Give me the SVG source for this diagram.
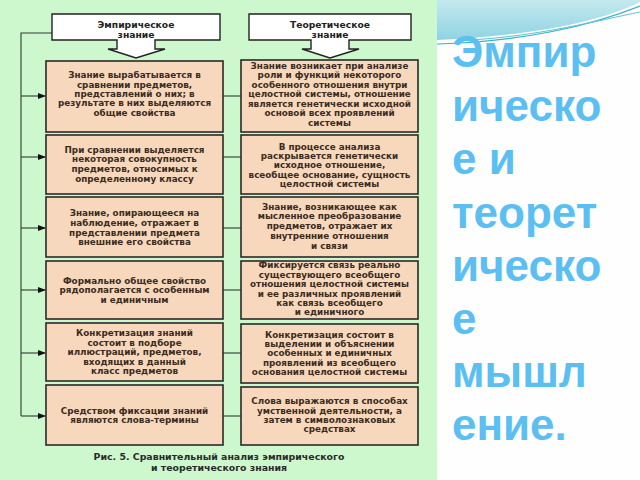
<svg xmlns="http://www.w3.org/2000/svg" width="640" height="480" viewBox="0 0 640 480">
<defs>
<linearGradient id="wave" x1="0" y1="0" x2="0" y2="1">
<stop offset="0" stop-color="#c4e9ee"/>
<stop offset="1" stop-color="#8fd3e3"/>
</linearGradient>
<marker id="ah" markerWidth="8" markerHeight="6" refX="7" refY="3" orient="auto" markerUnits="userSpaceOnUse">
<path d="M0,0 L8,3 L0,6 Z" fill="#111"/>
</marker>
<style>
.box{fill:#f8d8bc;stroke:#2a2a2a;stroke-width:1.6}
.hdr{fill:#fff;stroke:#222;stroke-width:1.4}
.t{font-family:"DejaVu Sans",Verdana,sans-serif;font-weight:bold;font-size:8.8px;fill:#3a2c22;text-anchor:middle}
.h{font-family:"DejaVu Sans",Verdana,sans-serif;font-weight:bold;font-size:9.2px;fill:#222;text-anchor:middle}
.cap{font-family:"DejaVu Sans",Verdana,sans-serif;font-weight:bold;font-size:9.4px;fill:#2a2a2a;text-anchor:middle}
.ln{stroke:#2f3f2f;stroke-width:1.1;fill:none}
.title{font-family:"Liberation Sans",Arial,sans-serif;font-weight:bold;font-size:44px;fill:#5bbff2}
</style>
</defs>
<rect x="0" y="0" width="640" height="480" fill="#fefefe"/>
<rect x="0" y="0" width="437" height="480" fill="#cdf7cd"/>
<path d="M437,0 H640 V2 C600,22 530,36 437,40 Z" fill="url(#wave)"/>
<path d="M437,44 C520,42 590,26 640,6" stroke="#38b2c4" stroke-width="1.2" fill="none"/>
<path d="M470,40 C540,36 600,20 640,12" stroke="#5cc3d0" stroke-width="1" fill="none"/>

<g id="connectors">
<path class="ln" d="M52,33 H21 V416"/>
<line class="ln" x1="21" y1="96" x2="45" y2="96" marker-end="url(#ah)"/>
<line class="ln" x1="21" y1="157" x2="45" y2="157" marker-end="url(#ah)"/>
<line class="ln" x1="21" y1="228" x2="45" y2="228" marker-end="url(#ah)"/>
<line class="ln" x1="21" y1="290" x2="45" y2="290" marker-end="url(#ah)"/>
<line class="ln" x1="21" y1="353" x2="45" y2="353" marker-end="url(#ah)"/>
<line class="ln" x1="21" y1="416" x2="45" y2="416" marker-end="url(#ah)"/>
<line class="ln" x1="223" y1="96" x2="241" y2="96"/>
<line class="ln" x1="223" y1="157" x2="241" y2="157"/>
<line class="ln" x1="223" y1="228" x2="241" y2="228"/>
<line class="ln" x1="223" y1="290" x2="241" y2="290"/>
<line class="ln" x1="223" y1="353" x2="241" y2="353"/>
<line class="ln" x1="223" y1="416" x2="241" y2="416"/>
</g>

<g id="hdr-emp">
<path class="hdr" d="M52,14 H220 V40 H155 V49 H165 L136,58 L108,49 H117 V40 H52 Z"/>
<text class="h" x="136" y="27.5">Эмпирическое</text>
<text class="h" x="136" y="37.5">знание</text>
</g>
<g id="hdr-teo">
<path class="hdr" d="M249,14 H411 V40 H349 V49 H359 L330,58 L302,49 H311 V40 H249 Z"/>
<text class="h" x="330" y="27.5">Теоретическое</text>
<text class="h" x="330" y="37.5">знание</text>
</g>

<g id="e1">
<rect class="box" x="46" y="61" width="177" height="71"/>
<text class="t" x="134.5" y="78">Знание вырабатывается в</text>
<text class="t" x="134.5" y="87.5">сравнении предметов,</text>
<text class="t" x="134.5" y="96.8">представлений о них; в</text>
<text class="t" x="134.5" y="106.3">результате в них выделяются</text>
<text class="t" x="134.5" y="115.7">общие свойства</text>
</g>
<g id="t1">
<rect class="box" x="241" y="60" width="177" height="72"/>
<text class="t" x="329.5" y="69">Знание возникает при анализе</text>
<text class="t" x="329.5" y="78.4">роли и функций некоторого</text>
<text class="t" x="329.5" y="87.8">особенного отношения внутри</text>
<text class="t" x="329.5" y="97.2">целостной системы, отношение</text>
<text class="t" x="329.5" y="106.6">является генетически исходной</text>
<text class="t" x="329.5" y="116">основой всех проявлений</text>
<text class="t" x="329.5" y="125.6">системы</text>
</g>

<g id="e2">
<rect class="box" x="46" y="135" width="177" height="59"/>
<text class="t" x="134.5" y="153">При сравнении выделяется</text>
<text class="t" x="134.5" y="162.4">некоторая совокупность</text>
<text class="t" x="134.5" y="172">предметов, относимых к</text>
<text class="t" x="134.5" y="181.6">определенному классу</text>
</g>
<g id="t2">
<rect class="box" x="241" y="135" width="177" height="59"/>
<text class="t" x="329.5" y="149.7">В процессе анализа</text>
<text class="t" x="329.5" y="159">раскрывается генетически</text>
<text class="t" x="329.5" y="168.4">исходное отношение,</text>
<text class="t" x="329.5" y="177.8">всеобщее основание, сущность</text>
<text class="t" x="329.5" y="187.2">целостной системы</text>
</g>

<g id="e3">
<rect class="box" x="46" y="197" width="177" height="60"/>
<text class="t" x="134.5" y="216.3">Знание, опирающееся на</text>
<text class="t" x="134.5" y="226">наблюдение, отражает в</text>
<text class="t" x="134.5" y="235.8">представлении предмета</text>
<text class="t" x="134.5" y="245.3">внешние его свойства</text>
</g>
<g id="t3">
<rect class="box" x="241" y="197" width="177" height="60"/>
<text class="t" x="329.5" y="209.7">Знание, возникающее как</text>
<text class="t" x="329.5" y="219.2">мысленное преобразование</text>
<text class="t" x="329.5" y="228.8">предметов, отражает их</text>
<text class="t" x="329.5" y="239.2">внутренние отношения</text>
<text class="t" x="329.5" y="249">и связи</text>
</g>

<g id="e4">
<rect class="box" x="46" y="261" width="177" height="58"/>
<text class="t" x="134.5" y="283.7">Формально общее свойство</text>
<text class="t" x="134.5" y="293">рядополагается с особенным</text>
<text class="t" x="134.5" y="302.6">и единичным</text>
</g>
<g id="t4">
<rect class="box" x="241" y="261" width="177" height="58"/>
<text class="t" x="329.5" y="268">Фиксируется связь реально</text>
<text class="t" x="329.5" y="277.6">существующего всеобщего</text>
<text class="t" x="329.5" y="287.2">отношения целостной системы</text>
<text class="t" x="329.5" y="296.6">и ее различных проявлений</text>
<text class="t" x="329.5" y="306">как связь всеобщего</text>
<text class="t" x="329.5" y="315.4">и единичного</text>
</g>

<g id="e5">
<rect class="box" x="46" y="323" width="177" height="58"/>
<text class="t" x="134.5" y="336.3">Конкретизация знаний</text>
<text class="t" x="134.5" y="345.7">состоит в подборе</text>
<text class="t" x="134.5" y="355.4">иллюстраций, предметов,</text>
<text class="t" x="134.5" y="364.7">входящих в данный</text>
<text class="t" x="134.5" y="374">класс предметов</text>
</g>
<g id="t5">
<rect class="box" x="241" y="324" width="177" height="59"/>
<text class="t" x="329.5" y="338">Конкретизация состоит в</text>
<text class="t" x="329.5" y="347">выделении и объяснении</text>
<text class="t" x="329.5" y="356.3">особенных и единичных</text>
<text class="t" x="329.5" y="365.6">проявлений из всеобщего</text>
<text class="t" x="329.5" y="374.8">основания  целостной системы</text>
</g>

<g id="e6">
<rect class="box" x="46" y="385" width="177" height="60"/>
<text class="t" x="134.5" y="414">Средством фиксации знаний</text>
<text class="t" x="134.5" y="423.3">являются слова-термины</text>
</g>
<g id="t6">
<rect class="box" x="241" y="387" width="177" height="58"/>
<text class="t" x="329.5" y="404">Слова выражаются в способах</text>
<text class="t" x="329.5" y="413.6">умственной деятельности, а</text>
<text class="t" x="329.5" y="423">затем в символознаковых</text>
<text class="t" x="329.5" y="432.4">средствах</text>
</g>

<g id="caption">
<text class="cap" x="219" y="460">Рис. 5. Сравнительный анализ эмпирического</text>
<text class="cap" x="219" y="470.5">и теоретического знания</text>
</g>

<g id="title">
<text class="title" x="452" y="67">Эмпир</text>
<text class="title" x="452" y="121">ическо</text>
<text class="title" x="452" y="174">е и</text>
<text class="title" x="452" y="228">теорет</text>
<text class="title" x="452" y="281">ическо</text>
<text class="title" x="452" y="334">е</text>
<text class="title" x="452" y="387">мышл</text>
<text class="title" x="452" y="440">ение.</text>
</g>
</svg>
